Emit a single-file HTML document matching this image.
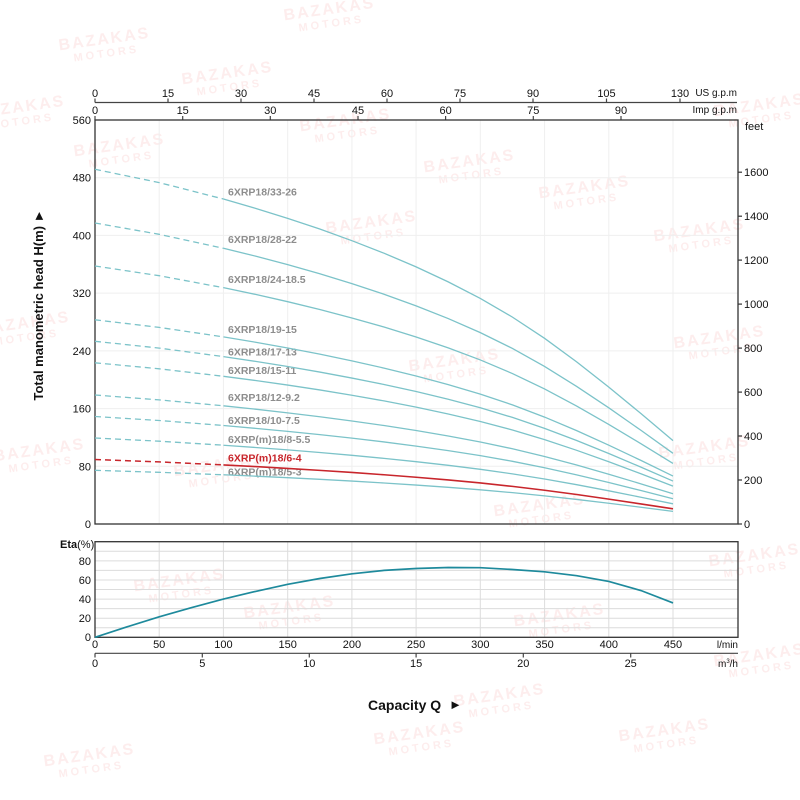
<!DOCTYPE html>
<html><head><meta charset="utf-8"><style>
html,body{margin:0;padding:0;background:#fff;}
svg{display:block;font-family:"Liberation Sans",Arial,sans-serif;}
</style></head><body>
<svg width="800" height="800" viewBox="0 0 800 800" xmlns="http://www.w3.org/2000/svg">
<rect width="800" height="800" fill="#fff"/>
<!-- watermarks -->
<g fill="#fdeded" font-weight="bold" text-anchor="middle">
<g transform="translate(330,14) rotate(-8)"><text font-size="16" letter-spacing="2">BAZAKAS</text><text y="13" font-size="11" letter-spacing="3">MOTORS</text></g>
<g transform="translate(105,44) rotate(-8)"><text font-size="16" letter-spacing="2">BAZAKAS</text><text y="13" font-size="11" letter-spacing="3">MOTORS</text></g>
<g transform="translate(228,78) rotate(-8)"><text font-size="16" letter-spacing="2">BAZAKAS</text><text y="13" font-size="11" letter-spacing="3">MOTORS</text></g>
<g transform="translate(20,112) rotate(-8)"><text font-size="16" letter-spacing="2">BAZAKAS</text><text y="13" font-size="11" letter-spacing="3">MOTORS</text></g>
<g transform="translate(120,150) rotate(-8)"><text font-size="16" letter-spacing="2">BAZAKAS</text><text y="13" font-size="11" letter-spacing="3">MOTORS</text></g>
<g transform="translate(346,125) rotate(-8)"><text font-size="16" letter-spacing="2">BAZAKAS</text><text y="13" font-size="11" letter-spacing="3">MOTORS</text></g>
<g transform="translate(470,166) rotate(-8)"><text font-size="16" letter-spacing="2">BAZAKAS</text><text y="13" font-size="11" letter-spacing="3">MOTORS</text></g>
<g transform="translate(372,227) rotate(-8)"><text font-size="16" letter-spacing="2">BAZAKAS</text><text y="13" font-size="11" letter-spacing="3">MOTORS</text></g>
<g transform="translate(585,192) rotate(-8)"><text font-size="16" letter-spacing="2">BAZAKAS</text><text y="13" font-size="11" letter-spacing="3">MOTORS</text></g>
<g transform="translate(700,235) rotate(-8)"><text font-size="16" letter-spacing="2">BAZAKAS</text><text y="13" font-size="11" letter-spacing="3">MOTORS</text></g>
<g transform="translate(760,110) rotate(-8)"><text font-size="16" letter-spacing="2">BAZAKAS</text><text y="13" font-size="11" letter-spacing="3">MOTORS</text></g>
<g transform="translate(25,328) rotate(-8)"><text font-size="16" letter-spacing="2">BAZAKAS</text><text y="13" font-size="11" letter-spacing="3">MOTORS</text></g>
<g transform="translate(455,365) rotate(-8)"><text font-size="16" letter-spacing="2">BAZAKAS</text><text y="13" font-size="11" letter-spacing="3">MOTORS</text></g>
<g transform="translate(720,342) rotate(-8)"><text font-size="16" letter-spacing="2">BAZAKAS</text><text y="13" font-size="11" letter-spacing="3">MOTORS</text></g>
<g transform="translate(40,455) rotate(-8)"><text font-size="16" letter-spacing="2">BAZAKAS</text><text y="13" font-size="11" letter-spacing="3">MOTORS</text></g>
<g transform="translate(220,470) rotate(-8)"><text font-size="16" letter-spacing="2">BAZAKAS</text><text y="13" font-size="11" letter-spacing="3">MOTORS</text></g>
<g transform="translate(705,452) rotate(-8)"><text font-size="16" letter-spacing="2">BAZAKAS</text><text y="13" font-size="11" letter-spacing="3">MOTORS</text></g>
<g transform="translate(540,510) rotate(-8)"><text font-size="16" letter-spacing="2">BAZAKAS</text><text y="13" font-size="11" letter-spacing="3">MOTORS</text></g>
<g transform="translate(180,585) rotate(-8)"><text font-size="16" letter-spacing="2">BAZAKAS</text><text y="13" font-size="11" letter-spacing="3">MOTORS</text></g>
<g transform="translate(290,612) rotate(-8)"><text font-size="16" letter-spacing="2">BAZAKAS</text><text y="13" font-size="11" letter-spacing="3">MOTORS</text></g>
<g transform="translate(560,620) rotate(-8)"><text font-size="16" letter-spacing="2">BAZAKAS</text><text y="13" font-size="11" letter-spacing="3">MOTORS</text></g>
<g transform="translate(755,560) rotate(-8)"><text font-size="16" letter-spacing="2">BAZAKAS</text><text y="13" font-size="11" letter-spacing="3">MOTORS</text></g>
<g transform="translate(500,700) rotate(-8)"><text font-size="16" letter-spacing="2">BAZAKAS</text><text y="13" font-size="11" letter-spacing="3">MOTORS</text></g>
<g transform="translate(665,735) rotate(-8)"><text font-size="16" letter-spacing="2">BAZAKAS</text><text y="13" font-size="11" letter-spacing="3">MOTORS</text></g>
<g transform="translate(90,760) rotate(-8)"><text font-size="16" letter-spacing="2">BAZAKAS</text><text y="13" font-size="11" letter-spacing="3">MOTORS</text></g>
<g transform="translate(420,738) rotate(-8)"><text font-size="16" letter-spacing="2">BAZAKAS</text><text y="13" font-size="11" letter-spacing="3">MOTORS</text></g>
<g transform="translate(760,660) rotate(-8)"><text font-size="16" letter-spacing="2">BAZAKAS</text><text y="13" font-size="11" letter-spacing="3">MOTORS</text></g>
</g>

<!-- main chart grid -->
<g stroke="#efefef" stroke-width="1">
<line x1="159.2" y1="120" x2="159.2" y2="524"/><line x1="223.4" y1="120" x2="223.4" y2="524"/>
<line x1="287.7" y1="120" x2="287.7" y2="524"/><line x1="351.9" y1="120" x2="351.9" y2="524"/>
<line x1="416.1" y1="120" x2="416.1" y2="524"/><line x1="480.3" y1="120" x2="480.3" y2="524"/>
<line x1="544.6" y1="120" x2="544.6" y2="524"/><line x1="608.8" y1="120" x2="608.8" y2="524"/>
<line x1="673" y1="120" x2="673" y2="524"/>
<line x1="95" y1="177.7" x2="738" y2="177.7"/><line x1="95" y1="235.4" x2="738" y2="235.4"/>
<line x1="95" y1="293.1" x2="738" y2="293.1"/><line x1="95" y1="350.9" x2="738" y2="350.9"/>
<line x1="95" y1="408.6" x2="738" y2="408.6"/><line x1="95" y1="466.3" x2="738" y2="466.3"/>
</g>

<!-- top axes -->
<g stroke="#444" stroke-width="1.2" fill="none">
<line x1="95" y1="102.5" x2="737" y2="102.5"/>
<line x1="95" y1="102.5" x2="95" y2="98.5"/><line x1="168" y1="102.5" x2="168" y2="98.5"/>
<line x1="241" y1="102.5" x2="241" y2="98.5"/><line x1="314" y1="102.5" x2="314" y2="98.5"/>
<line x1="387" y1="102.5" x2="387" y2="98.5"/><line x1="460" y1="102.5" x2="460" y2="98.5"/>
<line x1="533" y1="102.5" x2="533" y2="98.5"/><line x1="606.5" y1="102.5" x2="606.5" y2="98.5"/>
<line x1="680" y1="102.5" x2="680" y2="98.5"/>
<line x1="95" y1="120" x2="95" y2="116"/><line x1="182.7" y1="120" x2="182.7" y2="116"/>
<line x1="270.3" y1="120" x2="270.3" y2="116"/><line x1="358" y1="120" x2="358" y2="116"/>
<line x1="445.6" y1="120" x2="445.6" y2="116"/><line x1="533.3" y1="120" x2="533.3" y2="116"/>
<line x1="621" y1="120" x2="621" y2="116"/>
</g>
<g font-size="11" fill="#111" text-anchor="middle">
<text x="95" y="97">0</text><text x="168" y="97">15</text><text x="241" y="97">30</text><text x="314" y="97">45</text>
<text x="387" y="97">60</text><text x="460" y="97">75</text><text x="533" y="97">90</text><text x="606.5" y="97">105</text>
<text x="680" y="97">130</text>
<text x="95" y="114">0</text><text x="182.7" y="114">15</text><text x="270.3" y="114">30</text><text x="358" y="114">45</text>
<text x="445.6" y="114">60</text><text x="533.3" y="114">75</text><text x="621" y="114">90</text>
</g>
<g font-size="10" fill="#111" text-anchor="end">
<text x="737" y="96">US g.p.m</text><text x="737" y="113">Imp g.p.m</text>
</g>

<!-- main frame -->
<rect x="95" y="120" width="643" height="404" fill="none" stroke="#333" stroke-width="1.3"/>

<!-- left labels -->
<g font-size="11" fill="#111" text-anchor="end">
<text x="91" y="124">560</text><text x="91" y="181.7">480</text><text x="91" y="239.4">400</text>
<text x="91" y="297.1">320</text><text x="91" y="354.9">240</text><text x="91" y="412.6">160</text>
<text x="91" y="470.3">80</text><text x="91" y="528">0</text>
</g>
<!-- right axis -->
<g stroke="#333" stroke-width="1.2">
<line x1="738" y1="524" x2="742" y2="524"/><line x1="738" y1="480" x2="742" y2="480"/>
<line x1="738" y1="436" x2="742" y2="436"/><line x1="738" y1="392.1" x2="742" y2="392.1"/>
<line x1="738" y1="348.1" x2="742" y2="348.1"/><line x1="738" y1="304.1" x2="742" y2="304.1"/>
<line x1="738" y1="260.1" x2="742" y2="260.1"/><line x1="738" y1="216.2" x2="742" y2="216.2"/>
<line x1="738" y1="172.2" x2="742" y2="172.2"/>
</g>
<g font-size="11" fill="#111">
<text x="744" y="528">0</text><text x="744" y="484">200</text><text x="744" y="440">400</text>
<text x="744" y="396.1">600</text><text x="744" y="352.1">800</text><text x="744" y="308.1">1000</text>
<text x="744" y="264.1">1200</text><text x="744" y="220.2">1400</text><text x="744" y="176.2">1600</text>
<text x="745" y="130">feet</text>
</g>

<!-- Y title -->
<text transform="translate(43,305) rotate(-90)" text-anchor="middle" font-size="13" font-weight="bold" fill="#111">Total manometric head H(m) <tspan font-size="13">►</tspan></text>

<!-- curve labels -->
<g font-size="10.5" font-weight="bold" fill="#8d8d8d">
<text x="228" y="195.5">6XRP18/33-26</text>
<text x="228" y="243">6XRP18/28-22</text>
<text x="228" y="283">6XRP18/24-18.5</text>
<text x="228" y="333">6XRP18/19-15</text>
<text x="228" y="355.5">6XRP18/17-13</text>
<text x="228" y="374">6XRP18/15-11</text>
<text x="228" y="401">6XRP18/12-9.2</text>
<text x="228" y="424">6XRP18/10-7.5</text>
<text x="228" y="443">6XRP(m)18/8-5.5</text>
<text x="228" y="475.5">6XRP(m)18/5-3</text>
<text x="228" y="461.5" fill="#c8262c">6XRP(m)18/6-4</text>
</g>

<!-- dashed parts -->
<g fill="none" stroke="#7cc3c9" stroke-width="1.3" stroke-dasharray="6,4">
<polyline points="95,169.3 159.2,182.6 223.4,199"/>
<polyline points="95,223 159.2,234.3 223.4,248.3"/>
<polyline points="95,266 159.2,275.7 223.4,287.7"/>
<polyline points="95,319.8 159.2,327.4 223.4,336.9"/>
<polyline points="95,341.3 159.2,348.1 223.4,356.6"/>
<polyline points="95,362.8 159.2,368.8 223.4,376.3"/>
<polyline points="95,395 159.2,399.9 223.4,405.8"/>
<polyline points="95,416.5 159.2,420.5 223.4,425.5"/>
<polyline points="95,438 159.2,441.2 223.4,445.2"/>
<polyline points="95,470.3 159.2,472.3 223.4,474.8"/>
</g>
<polyline points="95,459.5 159.2,461.9 223.4,464.9" fill="none" stroke="#c8262c" stroke-width="1.5" stroke-dasharray="6,4"/>

<!-- solid parts (per-stage curve scaled) -->
<g fill="none" stroke="#7cc3c9" stroke-width="1.3">
<path vector-effect="non-scaling-stroke" transform="translate(95,524) scale(1.28444,-23.807)" d="M100,13.65 L125,13.26 L150,12.84 L175,12.39 L200,11.9 L225,11.375 L250,10.8 L275,10.17 L300,9.475 L325,8.69 L350,7.8 L375,6.81 L400,5.75 L425,4.64 L450,3.5"/>
<path vector-effect="non-scaling-stroke" transform="translate(95,524) scale(1.28444,-20.2)" d="M100,13.65 L125,13.26 L150,12.84 L175,12.39 L200,11.9 L225,11.375 L250,10.8 L275,10.17 L300,9.475 L325,8.69 L350,7.8 L375,6.81 L400,5.75 L425,4.64 L450,3.5"/>
<path vector-effect="non-scaling-stroke" transform="translate(95,524) scale(1.28444,-17.314)" d="M100,13.65 L125,13.26 L150,12.84 L175,12.39 L200,11.9 L225,11.375 L250,10.8 L275,10.17 L300,9.475 L325,8.69 L350,7.8 L375,6.81 L400,5.75 L425,4.64 L450,3.5"/>
<path vector-effect="non-scaling-stroke" transform="translate(95,524) scale(1.28444,-13.707)" d="M100,13.65 L125,13.26 L150,12.84 L175,12.39 L200,11.9 L225,11.375 L250,10.8 L275,10.17 L300,9.475 L325,8.69 L350,7.8 L375,6.81 L400,5.75 L425,4.64 L450,3.5"/>
<path vector-effect="non-scaling-stroke" transform="translate(95,524) scale(1.28444,-12.264)" d="M100,13.65 L125,13.26 L150,12.84 L175,12.39 L200,11.9 L225,11.375 L250,10.8 L275,10.17 L300,9.475 L325,8.69 L350,7.8 L375,6.81 L400,5.75 L425,4.64 L450,3.5"/>
<path vector-effect="non-scaling-stroke" transform="translate(95,524) scale(1.28444,-10.821)" d="M100,13.65 L125,13.26 L150,12.84 L175,12.39 L200,11.9 L225,11.375 L250,10.8 L275,10.17 L300,9.475 L325,8.69 L350,7.8 L375,6.81 L400,5.75 L425,4.64 L450,3.5"/>
<path vector-effect="non-scaling-stroke" transform="translate(95,524) scale(1.28444,-8.657)" d="M100,13.65 L125,13.26 L150,12.84 L175,12.39 L200,11.9 L225,11.375 L250,10.8 L275,10.17 L300,9.475 L325,8.69 L350,7.8 L375,6.81 L400,5.75 L425,4.64 L450,3.5"/>
<path vector-effect="non-scaling-stroke" transform="translate(95,524) scale(1.28444,-7.214)" d="M100,13.65 L125,13.26 L150,12.84 L175,12.39 L200,11.9 L225,11.375 L250,10.8 L275,10.17 L300,9.475 L325,8.69 L350,7.8 L375,6.81 L400,5.75 L425,4.64 L450,3.5"/>
<path vector-effect="non-scaling-stroke" transform="translate(95,524) scale(1.28444,-5.771)" d="M100,13.65 L125,13.26 L150,12.84 L175,12.39 L200,11.9 L225,11.375 L250,10.8 L275,10.17 L300,9.475 L325,8.69 L350,7.8 L375,6.81 L400,5.75 L425,4.64 L450,3.5"/>
<path vector-effect="non-scaling-stroke" transform="translate(95,524) scale(1.28444,-3.607)" d="M100,13.65 L125,13.26 L150,12.84 L175,12.39 L200,11.9 L225,11.375 L250,10.8 L275,10.17 L300,9.475 L325,8.69 L350,7.8 L375,6.81 L400,5.75 L425,4.64 L450,3.5"/>
</g>
<path vector-effect="non-scaling-stroke" fill="none" stroke="#c8262c" stroke-width="1.6" transform="translate(95,524) scale(1.28444,-4.329)" d="M100,13.65 L125,13.26 L150,12.84 L175,12.39 L200,11.9 L225,11.375 L250,10.8 L275,10.17 L300,9.475 L325,8.69 L350,7.8 L375,6.81 L400,5.75 L425,4.64 L450,3.5"/>

<!-- efficiency chart -->
<g stroke="#dcdcdc" stroke-width="1">
<line x1="95" y1="627.7" x2="738" y2="627.7"/><line x1="95" y1="618.2" x2="738" y2="618.2"/>
<line x1="95" y1="608.6" x2="738" y2="608.6"/><line x1="95" y1="599.1" x2="738" y2="599.1"/>
<line x1="95" y1="589.5" x2="738" y2="589.5"/><line x1="95" y1="580" x2="738" y2="580"/>
<line x1="95" y1="570.4" x2="738" y2="570.4"/><line x1="95" y1="560.9" x2="738" y2="560.9"/>
<line x1="95" y1="551.3" x2="738" y2="551.3"/>
<line x1="159.2" y1="541.7" x2="159.2" y2="637.3"/><line x1="223.4" y1="541.7" x2="223.4" y2="637.3"/>
<line x1="287.7" y1="541.7" x2="287.7" y2="637.3"/><line x1="351.9" y1="541.7" x2="351.9" y2="637.3"/>
<line x1="416.1" y1="541.7" x2="416.1" y2="637.3"/><line x1="480.3" y1="541.7" x2="480.3" y2="637.3"/>
<line x1="544.6" y1="541.7" x2="544.6" y2="637.3"/><line x1="608.8" y1="541.7" x2="608.8" y2="637.3"/>
<line x1="673" y1="541.7" x2="673" y2="637.3"/>
</g>
<rect x="95" y="541.7" width="643" height="95.6" fill="none" stroke="#333" stroke-width="1.3"/>
<polyline fill="none" stroke="#1e8a9c" stroke-width="1.7" points="95,637.3 127.1,626.8 159.2,616.8 191.3,607.7 223.4,599.1 255.6,591.4 287.7,584.3 319.8,578.5 351.9,573.8 384,570.4 416.1,568.5 448.2,567.5 480.3,567.7 512.4,569.5 544.6,571.8 576.7,575.7 608.8,581.4 640.9,590.5 673,602.9"/>
<g font-size="11" fill="#111" text-anchor="end">
<text x="91" y="641">0</text><text x="91" y="622.2">20</text><text x="91" y="603.1">40</text>
<text x="91" y="584">60</text><text x="91" y="564.9">80</text>
</g>
<text x="60" y="548" font-size="11" fill="#111"><tspan font-weight="bold">Eta</tspan>(%)</text>

<!-- l/min labels -->
<g font-size="11" fill="#111" text-anchor="middle">
<text x="95" y="648">0</text><text x="159.2" y="648">50</text><text x="223.4" y="648">100</text>
<text x="287.7" y="648">150</text><text x="351.9" y="648">200</text><text x="416.1" y="648">250</text>
<text x="480.3" y="648">300</text><text x="544.6" y="648">350</text><text x="608.8" y="648">400</text>
<text x="673" y="648">450</text>
</g>
<text x="738" y="648" font-size="10" fill="#111" text-anchor="end">l/min</text>

<!-- m3/h axis -->
<g stroke="#444" stroke-width="1.2">
<line x1="95" y1="653.3" x2="738" y2="653.3"/>
<line x1="95" y1="653.3" x2="95" y2="657.5"/><line x1="202.3" y1="653.3" x2="202.3" y2="657.5"/>
<line x1="309.3" y1="653.3" x2="309.3" y2="657.5"/><line x1="416.1" y1="653.3" x2="416.1" y2="657.5"/>
<line x1="523.3" y1="653.3" x2="523.3" y2="657.5"/><line x1="630.7" y1="653.3" x2="630.7" y2="657.5"/>
</g>
<g font-size="11" fill="#111" text-anchor="middle">
<text x="95" y="667">0</text><text x="202.3" y="667">5</text><text x="309.3" y="667">10</text>
<text x="416.1" y="667">15</text><text x="523.3" y="667">20</text><text x="630.7" y="667">25</text>
</g>
<text x="738" y="667" font-size="10" fill="#111" text-anchor="end">m<tspan font-size="6" dy="-4">3</tspan><tspan dy="4">/h</tspan></text>

<!-- X title -->
<text x="368" y="710" font-size="14" font-weight="bold" fill="#111">Capacity Q</text>
<text x="449" y="709" font-size="13" fill="#111">►</text>
</svg>
</body></html>
